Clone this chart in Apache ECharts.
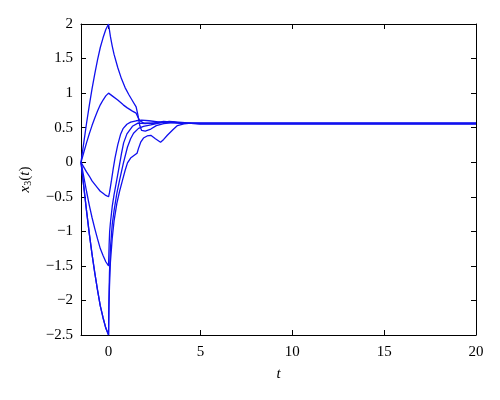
<!DOCTYPE html>
<html><head><meta charset="utf-8">
<script src="https://cdn.jsdelivr.net/npm/echarts@6/dist/echarts.min.js"></script>
<style>html,body{margin:0;padding:0;background:#fff}#c{width:500px;height:400px}</style>
</head><body><div id="c"></div>
<script>
// history segment t in [-1.5, 0]
const histT = [-1.5, -1.35, -1.2, -1.05, -0.9, -0.75, -0.6, -0.45, -0.3, -0.15, 0];
const histA = [0, 0.28, 0.56, 0.82, 1.06, 1.28, 1.48, 1.66, 1.80, 1.92, 2.0];
const histB = [0, 0.14, 0.28, 0.41, 0.53, 0.64, 0.74, 0.83, 0.90, 0.96, 1.0];
const histC = [0, -0.07, -0.14, -0.20, -0.27, -0.32, -0.37, -0.42, -0.45, -0.48, -0.5];
const histD = [0, -0.21, -0.42, -0.62, -0.80, -0.96, -1.11, -1.25, -1.35, -1.44, -1.5];
const histE = [0, -0.35, -0.70, -1.03, -1.33, -1.60, -1.85, -2.08, -2.25, -2.40, -2.5];
const histF = [0, -0.35, -0.70, -1.03, -1.33, -1.60, -1.85, -2.08, -2.25, -2.40, -2.5];

// solution for t > 0
const tA = [0.1, 0.2, 0.3, 0.5, 0.7, 0.9, 1.1, 1.3, 1.5, 1.6, 1.7, 1.8, 2.0, 2.3, 2.6, 3.0, 3.5, 4.0, 5.0, 20];
const yA = [1.82, 1.68, 1.56, 1.37, 1.21, 1.08, 0.98, 0.89, 0.80, 0.68, 0.53, 0.46, 0.45, 0.48, 0.53, 0.56, 0.575, 0.565, 0.56, 0.56];
const tB = [0.2, 0.5, 0.8, 1.0, 1.3, 1.5, 1.6, 1.7, 1.9, 2.3, 2.8, 3.3, 4.0, 5.0, 20];
const yB = [0.96, 0.90, 0.83, 0.79, 0.74, 0.71, 0.65, 0.60, 0.57, 0.56, 0.575, 0.585, 0.565, 0.56, 0.56];
const tC = [0.05, 0.1, 0.16, 0.25, 0.35, 0.5, 0.65, 0.8, 1.0, 1.2, 1.5, 1.8, 2.2, 2.8, 3.5, 4.0, 5.0, 20];
const yC = [-0.44, -0.36, -0.26, -0.10, 0.06, 0.25, 0.40, 0.49, 0.55, 0.58, 0.60, 0.61, 0.60, 0.58, 0.575, 0.565, 0.56, 0.56];
const tD = [0.03, 0.06, 0.1, 0.2, 0.3, 0.43, 0.6, 0.7, 0.82, 1.0, 1.3, 1.6, 2.0, 2.5, 3.0, 3.5, 4.0, 5.0, 20];
const yD = [-1.2, -1.0, -0.88, -0.64, -0.47, -0.28, -0.03, 0.12, 0.28, 0.41, 0.52, 0.565, 0.56, 0.57, 0.59, 0.58, 0.565, 0.56, 0.56];
const tE = [0.02, 0.05, 0.1, 0.2, 0.3, 0.45, 0.6, 0.8, 1.03, 1.2, 1.36, 1.63, 1.9, 2.3, 2.8, 3.3, 3.8, 4.5, 5.0, 20];
const yE = [-2.0, -1.6, -1.25, -0.9, -0.7, -0.45, -0.26, -0.02, 0.22, 0.34, 0.42, 0.49, 0.52, 0.54, 0.57, 0.59, 0.58, 0.565, 0.56, 0.56];
const tF = [0.02, 0.05, 0.1, 0.2, 0.3, 0.45, 0.6, 0.76, 0.9, 1.03, 1.2, 1.4, 1.55, 1.63, 1.75, 1.9, 2.1, 2.3, 2.55, 2.83, 3.0, 3.2, 3.5, 3.75, 4.1, 4.5, 5.0, 20];
const yF = [-2.1, -1.8, -1.45, -1.1, -0.85, -0.6, -0.42, -0.26, -0.12, -0.01, 0.06, 0.10, 0.13, 0.20, 0.29, 0.35, 0.38, 0.39, 0.34, 0.29, 0.33, 0.39, 0.47, 0.53, 0.555, 0.565, 0.56, 0.56];

const xTicks = [0, 5, 10, 15, 20];
const curves = [[histA, tA, yA], [histB, tB, yB], [histC, tC, yC], [histD, tD, yD], [histE, tE, yE], [histF, tF, yF]];

function pairs(h, t, y) {
  const out = histT.map((x, i) => [x, h[i]]);
  t.forEach((x, i) => out.push([x, y[i]]));
  return out;
}

const font = 'Liberation Serif';
const chart = echarts.init(document.getElementById('c'), null, {renderer: 'canvas'});
const axLine = {show: true, onZero: false, lineStyle: {color: '#000', width: 1}};
const tick = {show: true, inside: true, length: 5, lineStyle: {color: '#000'}};
chart.setOption({
  animation: false,
  backgroundColor: '#fff',
  grid: {left: 81, right: 24, top: 24, bottom: 65},
  xAxis: [{
    type: 'value', min: -1.5, max: 20,
    axisLine: axLine,
    axisTick: Object.assign({}, tick, {customValues: xTicks}),
    axisLabel: {customValues: xTicks, color: '#000', fontFamily: font, fontSize: 15, margin: 10},
    splitLine: {show: false},
    name: 't', nameLocation: 'middle', nameGap: 32,
    nameTextStyle: {fontFamily: font, fontSize: 15, fontStyle: 'italic', color: '#000'}
  }, {
    type: 'value', min: -1.5, max: 20, position: 'top',
    axisLine: axLine,
    axisTick: Object.assign({}, tick, {customValues: xTicks}),
    axisLabel: {show: false, customValues: xTicks},
    splitLine: {show: false}
  }],
  yAxis: [{
    type: 'value', min: -2.5, max: 2, interval: 0.5,
    axisLine: axLine, axisTick: tick,
    axisLabel: {color: '#000', fontFamily: font, fontSize: 15, margin: 8,
      formatter: v => (v < 0 ? '\u2212' + String(-v) : String(v))},
    splitLine: {show: false},
    name: '{i|x}{s|3}{n|(}{i|t}{n|)}', nameLocation: 'middle', nameGap: 48, nameRotate: 90,
    nameTextStyle: {rich: {
      i: {fontFamily: font, fontSize: 15, fontStyle: 'italic', color: '#000'},
      s: {fontFamily: font, fontSize: 10, color: '#000', verticalAlign: 'bottom', padding: [6, 0, 0, 0]},
      n: {fontFamily: font, fontSize: 15, color: '#000'}
    }}
  }, {
    type: 'value', min: -2.5, max: 2, interval: 0.5, position: 'right',
    axisLine: axLine, axisTick: tick, axisLabel: {show: false}, splitLine: {show: false}
  }],
  series: curves.map(c => ({
    type: 'line', data: pairs(c[0], c[1], c[2]), showSymbol: false,
    smooth: false, lineStyle: {color: '#1010ee', width: 1.3}, z: 2
  }))
});
</script>
</body></html>
